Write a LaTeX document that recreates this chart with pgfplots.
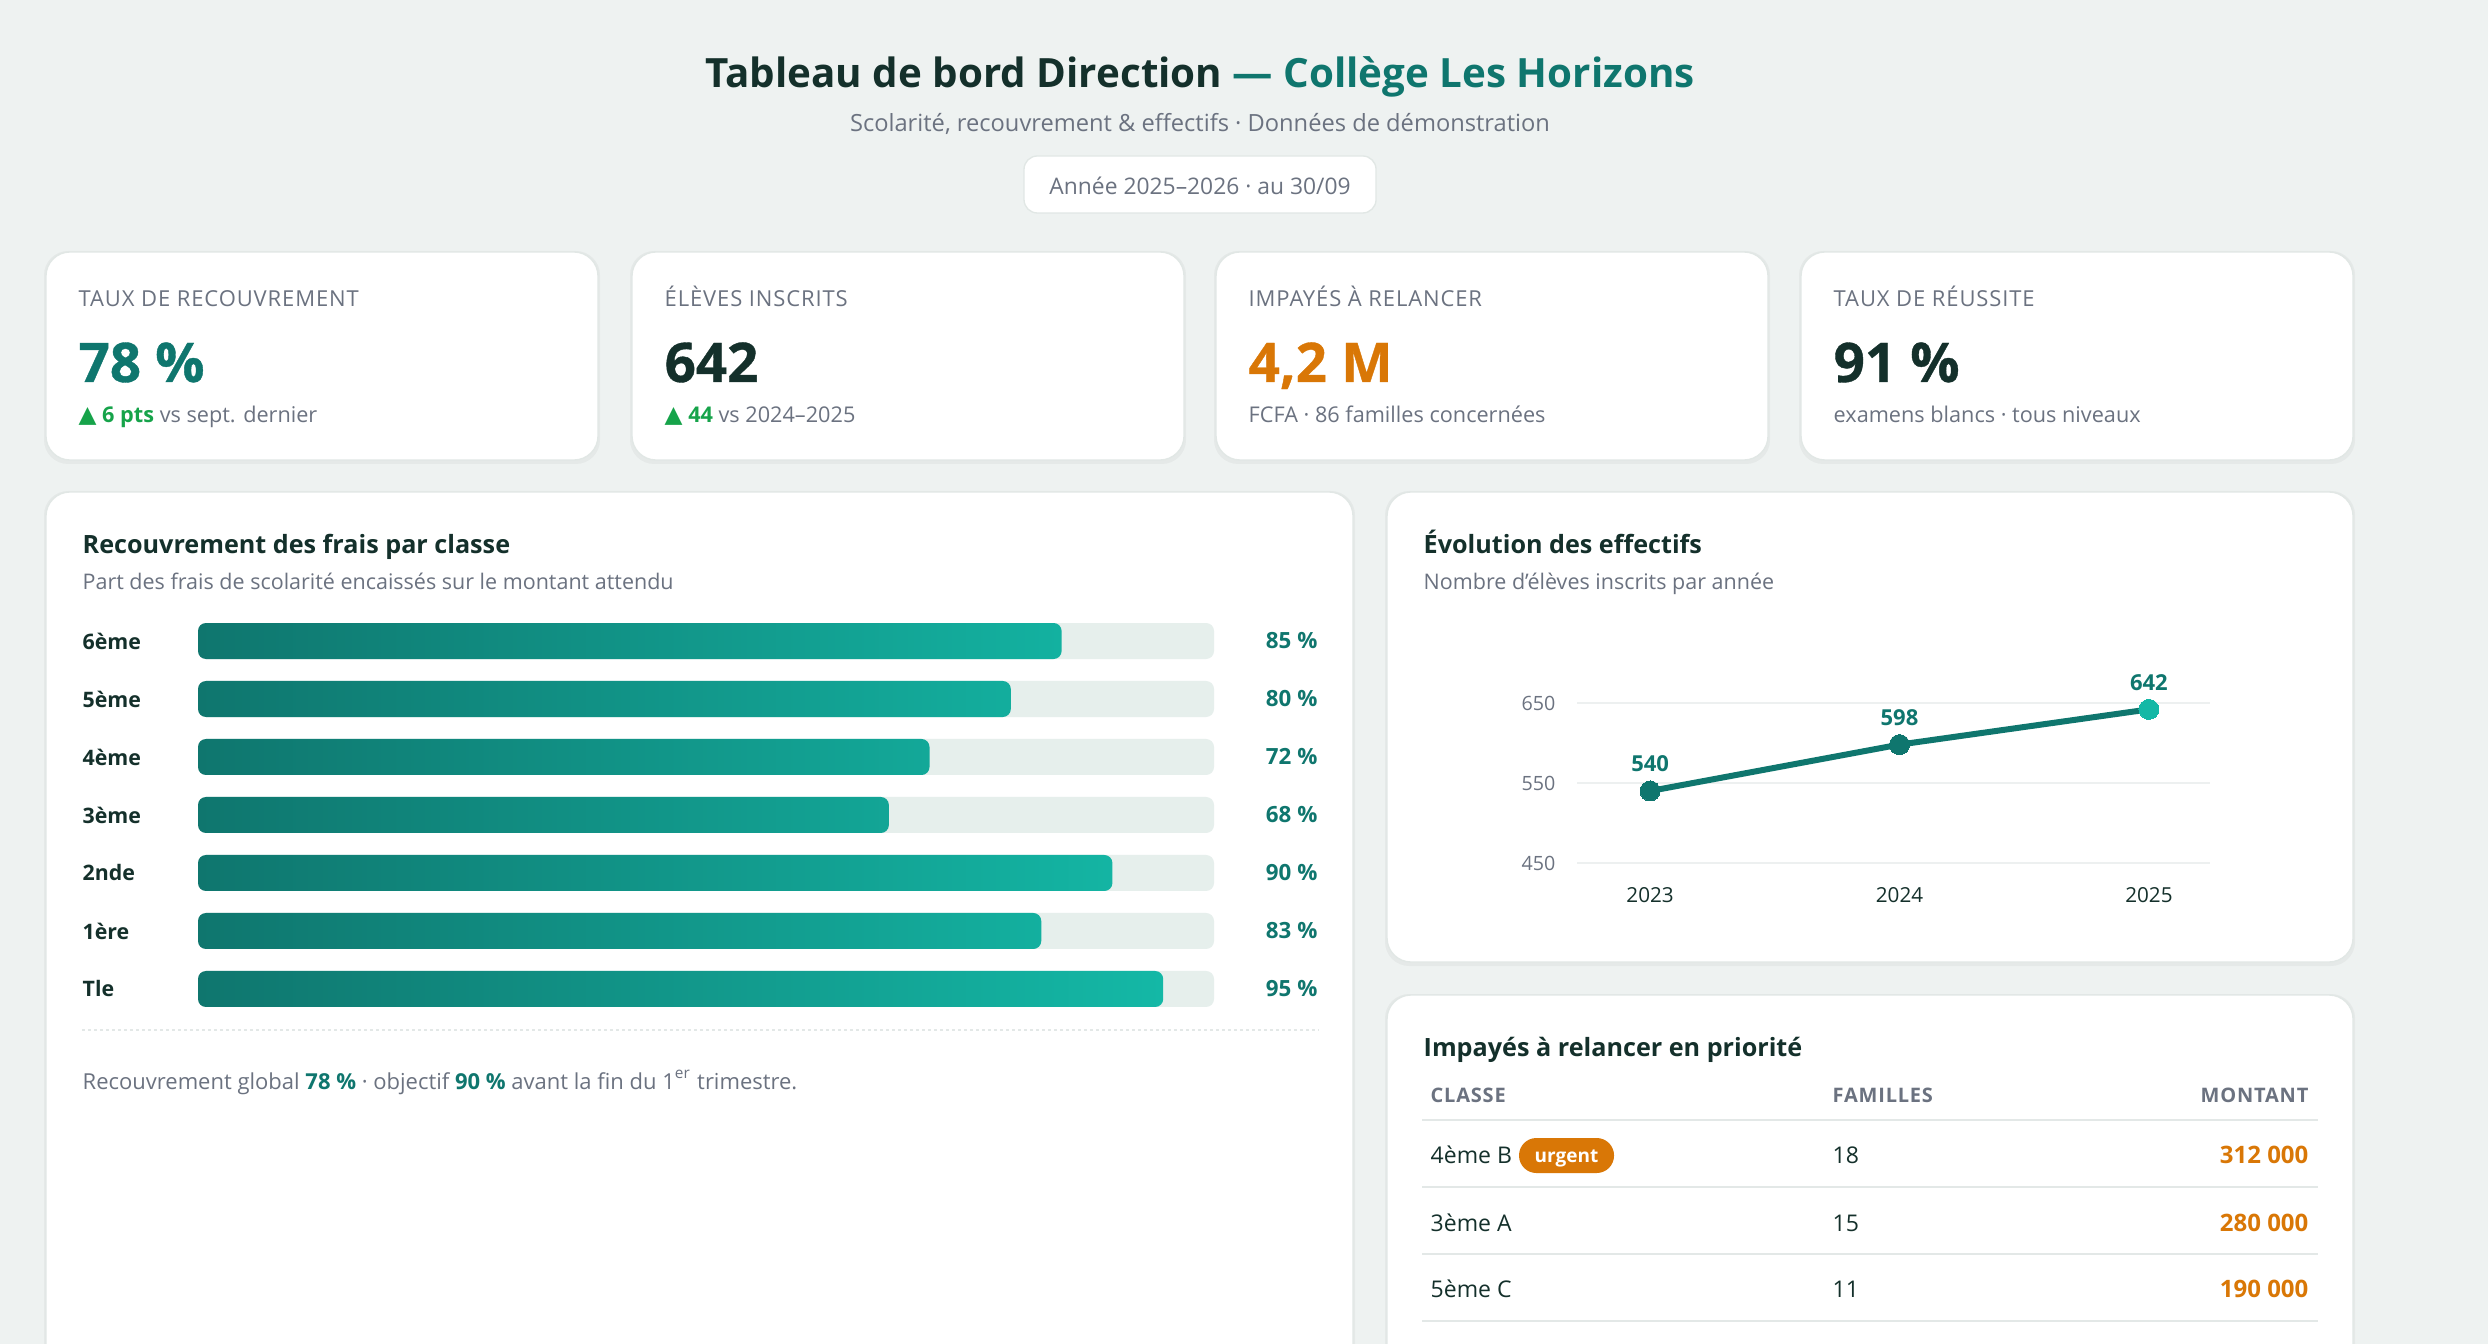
\documentclass[border=0pt]{standalone}
\usepackage{fontspec}
\setmainfont{Open Sans}
\newfontfamily\dejavu{DejaVu Sans}
\newfontfamily\spaced[LetterSpace=4]{Open Sans}
\newfontfamily\heavy[BoldFeatures={FakeBold=0.7}]{Open Sans}
\usepackage{pgfplots}
\pgfplotsset{compat=1.18}
\definecolor{bg}{HTML}{EEF2F1}
\definecolor{ink}{HTML}{14302B}
\definecolor{teal}{HTML}{0F766E}
\definecolor{tealL}{HTML}{14B8A6}
\definecolor{grayt}{HTML}{6B7280}
\definecolor{orange}{HTML}{D97706}
\definecolor{green}{HTML}{16A34A}
\definecolor{track}{HTML}{E6EFEC}
\definecolor{gridc}{HTML}{EDF0F0}
\definecolor{line}{HTML}{E3E8E7}
\definecolor{cardline}{HTML}{E1E7E5}
\newcommand\fs[1]{\fontsize{#1}{#1}\selectfont}
\newcommand\tri{{\dejavu\fontsize{7pt}{7pt}\selectfont ▲}}
\newcommand\card[4]{%
  \fill[black,opacity=0.035,rounded corners=7.2pt] (#1-2,#2-1) rectangle (#3+2,#4+4);
  \filldraw[fill=white,draw=cardline,line width=0.4pt,rounded corners=7.2pt] (#1,#2) rectangle (#3,#4);}
\begin{document}
\begin{tikzpicture}
\path[use as bounding box] (0,0) rectangle (746.4pt,-403.2pt);
\clip (0,0) rectangle (746.4pt,-403.2pt);
\fill[bg] (0,0) rectangle (746.4pt,-403.2pt);
\begin{scope}[x=0.3pt,y=-0.3pt]
% header
\node[anchor=base,inner sep=0,font=\fs{12.1pt}\bfseries,text=ink] at (1200,88) {Tableau de bord Direction \textcolor{teal}{— Collège Les Horizons}};
\node[anchor=base,inner sep=0,font=\fs{7.1pt},text=grayt] at (1200,132) {Scolarité, recouvrement \& effectifs · Données de démonstration};
\filldraw[fill=white,draw=cardline,line width=0.4pt,rounded corners=4pt] (1024,156) rectangle (1376,213);
\node[anchor=base,inner sep=0,font=\fs{6.85pt},text=grayt] at (1200,195) {Année 2025–2026 · au 30/09};
% KPI cards
\card{46}{252}{598}{460}
\card{632}{252}{1184}{460}
\card{1216}{252}{1768}{460}
\card{1801}{252}{2353}{460}
\node[anchor=base west,inner sep=0,font=\spaced\fs{6.6pt},text=grayt] at (78,307) {TAUX DE RECOUVREMENT};
\node[anchor=base west,inner sep=0,font=\heavy\fs{16.4pt}\bfseries,text=teal] at (78,382) {78 \%};
\node[anchor=base west,inner sep=0,font=\fs{6.5pt},text=grayt] at (78,423) {\textcolor{green}{\tri\ \textbf{6 pts}} vs sept. dernier};
\node[anchor=base west,inner sep=0,font=\spaced\fs{6.6pt},text=grayt] at (664,307) {ÉLÈVES INSCRITS};
\node[anchor=base west,inner sep=0,font=\heavy\fs{16.4pt}\bfseries,text=ink] at (664,382) {642};
\node[anchor=base west,inner sep=0,font=\fs{6.5pt},text=grayt] at (664,423) {\textcolor{green}{\tri\ \textbf{44}} vs 2024–2025};
\node[anchor=base west,inner sep=0,font=\spaced\fs{6.6pt},text=grayt] at (1248,307) {IMPAYÉS À RELANCER};
\node[anchor=base west,inner sep=0,font=\heavy\fs{16.4pt}\bfseries,text=orange] at (1248,382) {4,2 M};
\node[anchor=base west,inner sep=0,font=\fs{6.5pt},text=grayt] at (1248,423) {FCFA · 86 familles concernées};
\node[anchor=base west,inner sep=0,font=\spaced\fs{6.6pt},text=grayt] at (1833,307) {TAUX DE RÉUSSITE};
\node[anchor=base west,inner sep=0,font=\heavy\fs{16.4pt}\bfseries,text=ink] at (1833,382) {91 \%};
\node[anchor=base west,inner sep=0,font=\fs{6.5pt},text=grayt] at (1833,423) {examens blancs · tous niveaux};
% panels
\card{46}{492}{1353}{1420}
\card{1387}{492}{2353}{962}
\card{1387}{995}{2353}{1420}
% left panel texts
\node[anchor=base west,inner sep=0,font=\fs{7.55pt}\bfseries,text=ink] at (82,553) {Recouvrement des frais par classe};
\node[anchor=base west,inner sep=0,font=\fs{6.45pt},text=grayt] at (82,589) {Part des frais de scolarité encaissés sur le montant attendu};
\draw[line width=0.6pt,color=line,dash pattern=on 0.9pt off 0.9pt] (82,1030) -- (1318,1030);
\node[anchor=base west,inner sep=0,font=\fs{6.6pt},text=grayt] at (82,1089) {Recouvrement global \textcolor{teal}{\textbf{78 \%}} · objectif \textcolor{teal}{\textbf{90 \%}} avant la fin du 1\textsuperscript{er} trimestre.};
% right top panel texts
\node[anchor=base west,inner sep=0,font=\fs{7.55pt}\bfseries,text=ink] at (1423,553) {Évolution des effectifs};
\node[anchor=base west,inner sep=0,font=\fs{6.45pt},text=grayt] at (1423,589) {Nombre d'élèves inscrits par année};
% right bottom panel: table
\node[anchor=base west,inner sep=0,font=\fs{7.55pt}\bfseries,text=ink] at (1423,1056) {Impayés à relancer en priorité};
\node[anchor=base west,inner sep=0,font=\spaced\fs{6.0pt}\bfseries,text=grayt] at (1430,1102) {CLASSE};
\node[anchor=base west,inner sep=0,font=\spaced\fs{6.0pt}\bfseries,text=grayt] at (1832,1102) {FAMILLES};
\node[anchor=base east,inner sep=0,font=\spaced\fs{6.0pt}\bfseries,text=grayt] at (2309,1102) {MONTANT};
\foreach \yy in {1119.5,1187,1254,1321} {\draw[line width=0.6pt,color=line] (1422,\yy) -- (2318,\yy);}
\node[anchor=base west,inner sep=0,font=\fs{6.9pt},text=ink] at (1430,1163) {4ème B};
\fill[orange,rounded corners=5.2pt] (1519,1138) rectangle (1614,1173);
\node[anchor=base,inner sep=0,font=\fs{5.7pt}\bfseries,text=white] at (1566.5,1162) {urgent};
\node[anchor=base west,inner sep=0,font=\fs{6.9pt},text=ink] at (1832,1163) {18};
\node[anchor=base east,inner sep=0,font=\fs{7.2pt}\bfseries,text=orange] at (2309,1163) {312 000};
\node[anchor=base west,inner sep=0,font=\fs{6.9pt},text=ink] at (1430,1231) {3ème A};
\node[anchor=base west,inner sep=0,font=\fs{6.9pt},text=ink] at (1832,1231) {15};
\node[anchor=base east,inner sep=0,font=\fs{7.2pt}\bfseries,text=orange] at (2309,1231) {280 000};
\node[anchor=base west,inner sep=0,font=\fs{6.9pt},text=ink] at (1430,1297) {5ème C};
\node[anchor=base west,inner sep=0,font=\fs{6.9pt},text=ink] at (1832,1297) {11};
\node[anchor=base east,inner sep=0,font=\fs{7.2pt}\bfseries,text=orange] at (2309,1297) {190 000};
\end{scope}
% ---------- bar chart ----------
\begin{axis}[at={(59.4pt,-183.6pt)},anchor=north west,scale only axis,
  width=304.8pt,height=121.8pt,
  xmin=0,xmax=100,ymin=-0.5,ymax=6.5,y dir=reverse,
  axis line style={draw=none},major tick length=0pt,
  xtick=\empty,ytick={0,...,6},
  yticklabels={6ème,5ème,4ème,3ème,2nde,1ère,Tle},
  yticklabel style={anchor=west,xshift=-34.8pt,inner sep=0pt,font=\fs{6.4pt}\bfseries,text=ink},
  bar width=10.8pt,clip=false]
\addplot[xbar,bar shift=0pt,draw=none,fill=track,rounded corners=2.4pt]
  coordinates {(100,0) (100,1) (100,2) (100,3) (100,4) (100,5) (100,6)};
\addplot[xbar,bar shift=0pt,draw=none,left color=teal,right color=tealL,rounded corners=2.4pt]
  coordinates {(85,0) (80,1) (72,2) (68,3) (90,4) (83,5) (95,6)};
\addplot[only marks,mark=none,point meta=explicit symbolic,
  nodes near coords={\pgfplotspointmeta~\%},
  every node near coord/.append style={anchor=east,inner sep=0pt,font=\fs{6.7pt}\bfseries,text=teal}]
  coordinates {(110.24,0) [85] (110.24,1) [80] (110.24,2) [72] (110.24,3) [68] (110.24,4) [90] (110.24,5) [83] (110.24,6) [95]};
\end{axis}
% ---------- line chart ----------
\begin{axis}[at={(473.1pt,-258.9pt)},anchor=south west,scale only axis,
  width=189.9pt,height=48pt,
  xmin=2022.707,xmax=2025.245,ymin=450,ymax=650,
  axis line style={draw=none},major tick length=0pt,
  ytick={450,550,650},yticklabels={450,550,650},
  xtick={2023,2024,2025},xticklabels={2023,2024,2025},
  ymajorgrids,grid style={line width=0.6pt,color=gridc},
  yticklabel style={anchor=east,xshift=-6.3pt,inner sep=0pt,font=\fs{5.9pt},text=grayt},
  xticklabel style={anchor=north,yshift=-7.2pt,inner sep=0pt,font=\fs{6.2pt},text=ink},
  clip=false]
\addplot[teal,line width=1.8pt,mark=none,
  point meta=explicit symbolic,nodes near coords={\pgfplotspointmeta},
  every node near coord/.append style={anchor=south,yshift=4.8pt,inner sep=0pt,font=\fs{6.6pt}\bfseries,text=teal}]
  coordinates {(2023,540) [540] (2024,598) [598] (2025,642) [642]};
\addplot[teal,only marks,mark=*,mark size=3pt,mark options={fill=teal,draw=teal,line width=0pt}]
  coordinates {(2023,540) (2024,598)};
\addplot[tealL,only marks,mark=*,mark size=3pt,mark options={fill=tealL,draw=tealL,line width=0pt}]
  coordinates {(2025,642)};
\end{axis}
\end{tikzpicture}
\end{document}
